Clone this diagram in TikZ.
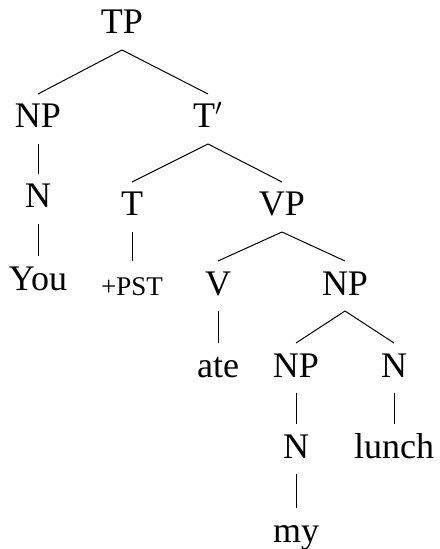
\documentclass[tikz,border=0pt]{standalone}
\usepackage{fontspec}
\setmainfont{Liberation Serif}
\tikzset{cat/.style={anchor=base,inner sep=0pt,outer sep=0pt,text height=17pt,text depth=8pt,font=\fontsize{18}{22}\selectfont}}
\newcommand{\smallcapsx}[1]{{\fontsize{13.5}{16}\selectfont #1}}
\begin{document}
\begin{tikzpicture}[x=0.5pt,y=-0.5pt]
    \useasboundingbox (0,0) rectangle (439,549);
    \foreach \n/\x/\y/\t in {TP/122/34/TP, NPa/38/128/NP, Tbar/208/128/{T$'$},
      Na/38/208/N, T/132/216/T, VP/282/216/VP, You/38/290/You,
      pst/132/295/{\smallcapsx{+PST}}, V/218/295/V, NPb/345/295/NP,
      ate/218/377/ate, NPc/296/377/NP, Nb/394/377/N,
      Nc/296/458/N, lunch/394/458/lunch, my/296/542/my}{%
      \node[cat] (\n) at (\x,\y) {\t};
    }
    \foreach \a/\b in {TP/NPa, TP/Tbar, NPa/Na, Na/You, Tbar/T, Tbar/VP,
      T/pst, VP/V, VP/NPb, V/ate, NPb/NPc, NPb/Nb, NPc/Nc, Nc/my, Nb/lunch}{%
      \draw[line width=0.5pt] (\a.south) -- (\b.north);
    }
\end{tikzpicture}
\end{document}
